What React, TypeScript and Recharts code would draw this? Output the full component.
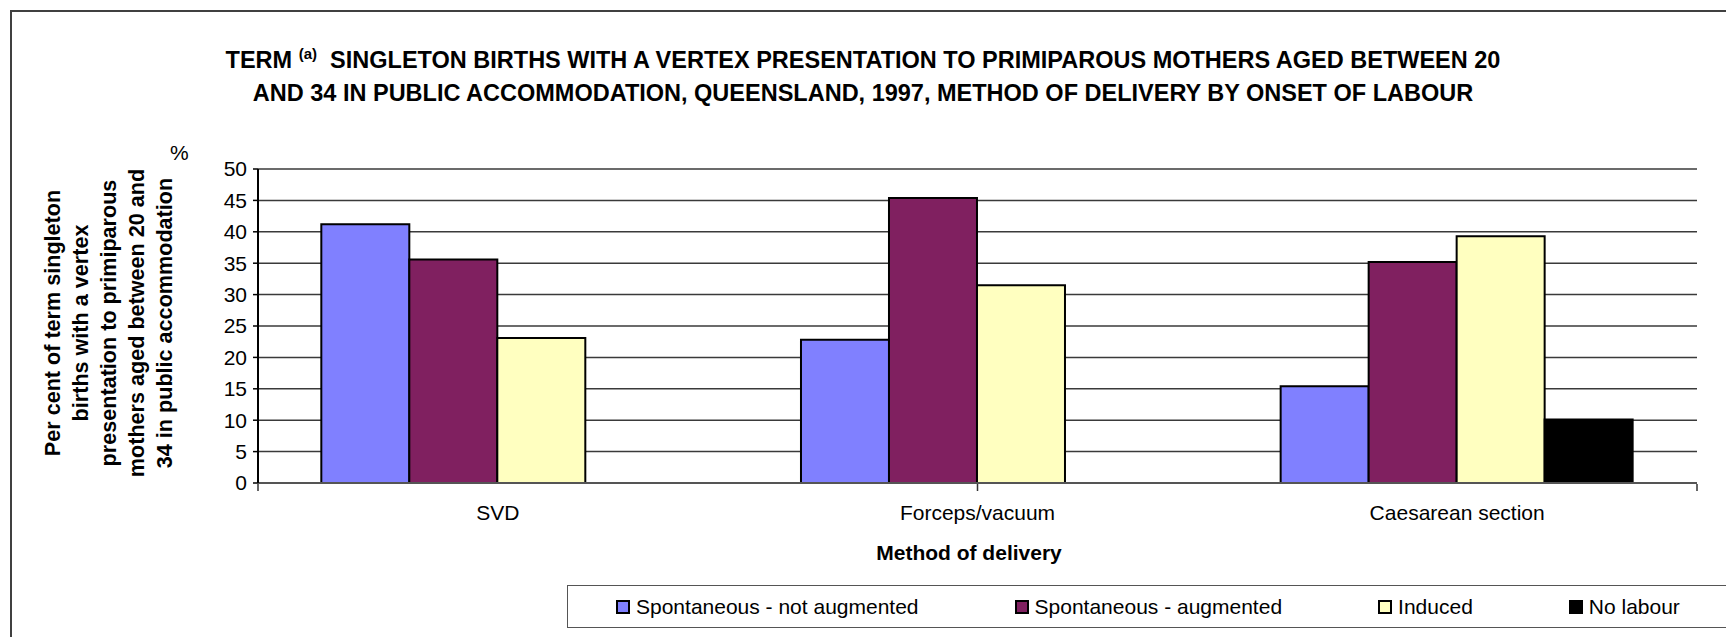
import React from "react";
import { BarChart, Bar, XAxis, YAxis, CartesianGrid, Legend } from "recharts";

const categories = ["SVD", "Forceps/vacuum", "Caesarean section"];
const notAugmented = [41.2, 22.8, 15.4];
const augmented = [35.6, 45.4, 35.2];
const induced = [23.1, 31.5, 39.3];
const noLabour = [null, null, 10.1];

const seriesNames = [
  "Spontaneous - not augmented",
  "Spontaneous - augmented",
  "Induced",
  "No labour",
];
const seriesColors = ["#8080FF", "#802060", "#FFFFC0", "#000000"];
const yTicks = [0, 5, 10, 15, 20, 25, 30, 35, 40, 45, 50];
// category boundaries, used only for the "between categories" tick marks
const boundaryTicks = [0, 1, 2, 3];

const seriesValues = [notAugmented, augmented, induced, noLabour];

const data = categories.map((name, i) => {
  const row: Record<string, any> = { name };
  seriesValues.forEach((vals, s) => {
    row["s" + s] = vals[i];
  });
  return row;
});

const FONT = "'Liberation Sans', Arial, sans-serif";

const noLabel = () => <g />;

const renderLegend = (props: any) => {
  const items = [...(props.payload || [])].sort(
    (a: any, b: any) => seriesNames.indexOf(a.value) - seriesNames.indexOf(b.value)
  );
  return (
    <div
      style={{
        boxSizing: "border-box",
        width: 1200,
        height: 43,
        borderTop: "1.5px solid #555",
        borderBottom: "1.5px solid #555",
        borderLeft: "1.5px solid #555",
        display: "flex",
        alignItems: "center",
        paddingLeft: 48,
        gap: 96,
        fontFamily: FONT,
        fontSize: 21,
        color: "#000",
        background: "#fff",
      }}
    >
      {items.map((item: any) => (
        <div key={item.value} style={{ display: "flex", alignItems: "center" }}>
          <span
            style={{
              display: "inline-block",
              boxSizing: "border-box",
              width: 14,
              height: 14,
              marginRight: 6,
              background: item.color,
              border: "2px solid #000",
            }}
          />
          <span>{item.value}</span>
        </div>
      ))}
    </div>
  );
};

const App: React.FC = () => {
  return (
    <div
      style={{
        position: "absolute",
        left: 0,
        top: 0,
        width: 1726,
        height: 637,
        overflow: "hidden",
        background: "#fff",
        fontFamily: FONT,
      }}
    >
      {/* outer chart-area frame */}
      <div
        style={{
          position: "absolute",
          left: 10,
          top: 10,
          width: 1730,
          height: 640,
          borderLeft: "2px solid #404040",
          borderTop: "2px solid #404040",
        }}
      />
      <div
        style={{
          position: "absolute",
          left: 0,
          top: 45,
          width: 1726,
          textAlign: "center",
          fontWeight: "bold",
          fontSize: 23.5,
          lineHeight: "30px",
          whiteSpace: "nowrap",
        }}
      >
        TERM{" "}
        <span style={{ fontSize: 15, position: "relative", top: -9 }}>(a)</span>
        {"\u00a0 "}
        SINGLETON BIRTHS WITH A VERTEX PRESENTATION TO PRIMIPAROUS MOTHERS AGED
        BETWEEN 20
        <br />
        AND 34 IN PUBLIC ACCOMMODATION, QUEENSLAND, 1997, METHOD OF DELIVERY BY
        ONSET OF LABOUR
      </div>
      <div
        style={{
          position: "absolute",
          left: -71,
          top: 253,
          width: 360,
          height: 140,
          transform: "rotate(-90deg)",
          textAlign: "center",
          fontWeight: "bold",
          fontSize: 21.6,
          lineHeight: "28px",
          whiteSpace: "nowrap",
        }}
      >
        Per cent of term singleton
        <br />
        births with a vertex
        <br />
        presentation to primiparous
        <br />
        mothers aged between 20 and
        <br />
        34 in public accommodation
      </div>
      <div style={{ position: "absolute", left: 170, top: 141, fontSize: 21 }}>%</div>
      <div
        style={{
          position: "absolute",
          left: 0,
          top: 541,
          width: 1938,
          textAlign: "center",
          fontWeight: "bold",
          fontSize: 21,
        }}
      >
        Method of delivery
      </div>

      <div style={{ position: "absolute", left: 0, top: 0 }}>
        <BarChart
          width={1726}
          height={637}
          data={data}
          margin={{ top: 169, right: 29, bottom: 152, left: 198 }}
          barCategoryGap="13.2%"
          barGap={0}
        >
          <CartesianGrid vertical={false} stroke="#3a3a3a" strokeWidth={1.5} />
          <XAxis
            dataKey="name"
            height={1}
            tickSize={0}
            tickMargin={22}
            interval={0}
            axisLine={{ stroke: "#555", strokeWidth: 2 }}
            tick={{ fill: "#000", fontSize: 21, fontFamily: FONT }}
          />
          <XAxis
            xAxisId="sep"
            type="number"
            domain={[0, 3]}
            allowDataOverflow
            ticks={boundaryTicks}
            interval={0}
            height={1}
            tick={noLabel}
            axisLine={false}
            tickSize={7}
            tickLine={{ stroke: "#333", strokeWidth: 1.5 }}
          />
          <YAxis
            domain={[0, 50]}
            ticks={yTicks}
            interval={0}
            width={60}
            tickSize={5}
            tickMargin={6}
            axisLine={{ stroke: "#000", strokeWidth: 2 }}
            tickLine={{ stroke: "#000", strokeWidth: 1.5 }}
            tick={{ fill: "#000", fontSize: 21, fontFamily: FONT }}
          />
          <YAxis
            yAxisId="right"
            orientation="right"
            width={0}
            domain={[0, 50]}
            tick={false}
            tickLine={false}
            axisLine={{ stroke: "#888", strokeWidth: 2.5 }}
          />
          <Legend
            layout="horizontal"
            verticalAlign="middle"
            align="center"
            content={renderLegend}
            wrapperStyle={{ left: 567, top: 585, width: 1200, height: 43 }}
          />
          {seriesNames.map((name, s) => (
            <Bar
              key={name}
              dataKey={"s" + s}
              name={name}
              fill={seriesColors[s]}
              stroke="#000"
              strokeWidth={2}
              isAnimationActive={false}
            />
          ))}
        </BarChart>
      </div>
    </div>
  );
};

export default App;
